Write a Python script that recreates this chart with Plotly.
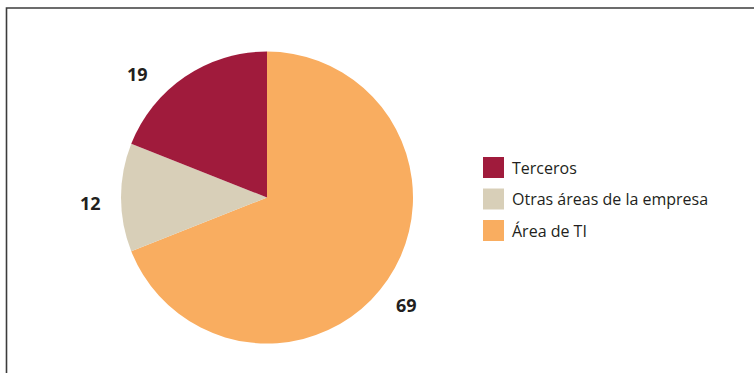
import plotly.graph_objects as go

# Share of responses by who handles the work (%)
categories = ["Área de TI", "Otras áreas de la empresa", "Terceros"]
values = [69, 12, 19]
colors = ["#F9AD60", "#D8CFB8", "#A01B3C"]

W, H = 754, 373
FONT = "Open Sans"
TEXT_COLOR = "#231F20"

# pie placement in pixels
cx, cy, r = 267, 197.5, 146


def px(x):
    return x / W


def py(y):
    return 1 - y / H


fig = go.Figure(
    go.Pie(
        labels=categories,
        values=values,
        marker=dict(colors=colors, line=dict(width=0)),
        sort=False,
        direction="clockwise",
        rotation=0,
        textinfo="none",
        showlegend=False,
        domain=dict(x=[px(cx - r), px(cx + r)], y=[py(cy + r), py(cy - r)]),
    )
)

annotations = []
shapes = []

# value labels set outside each slice
label_pos = {"Área de TI": (406, 305), "Otras áreas de la empresa": (90, 203), "Terceros": (137, 74)}
for cat, val in zip(categories, values):
    lx, ly = label_pos[cat]
    annotations.append(dict(
        x=px(lx), y=py(ly), xref="paper", yref="paper",
        text=f"<b>{val}</b>", showarrow=False,
        xanchor="center", yanchor="middle",
        font=dict(family=FONT, size=18, color=TEXT_COLOR),
    ))

# legend drawn as swatches + text, listed in reverse slice order
leg_x, leg_y, sw, step = 483, 157, 21, 31.5
for i, (cat, col) in enumerate(reversed(list(zip(categories, colors)))):
    top = leg_y + i * step
    shapes.append(dict(
        type="rect", xref="paper", yref="paper",
        x0=px(leg_x), x1=px(leg_x + sw), y0=py(top + sw), y1=py(top),
        fillcolor=col, line=dict(width=0),
    ))
    annotations.append(dict(
        x=px(leg_x + sw + 6), y=py(top + sw / 2), xref="paper", yref="paper",
        text=cat, showarrow=False, xanchor="left", yanchor="middle",
        font=dict(family=FONT, size=16, color=TEXT_COLOR),
    ))

# frame lines along top and left
shapes.append(dict(
    type="path", xref="paper", yref="paper",
    path=f"M {px(6.5)} {py(H + 2)} L {px(6.5)} {py(8)} L {px(W + 2)} {py(8)}",
    line=dict(color="#3c3c3c", width=1.6),
))

fig.update_layout(
    width=W, height=H,
    margin=dict(l=0, r=0, t=0, b=0),
    paper_bgcolor="white",
    plot_bgcolor="white",
    annotations=annotations,
    shapes=shapes,
)

fig.write_html("out.html")
